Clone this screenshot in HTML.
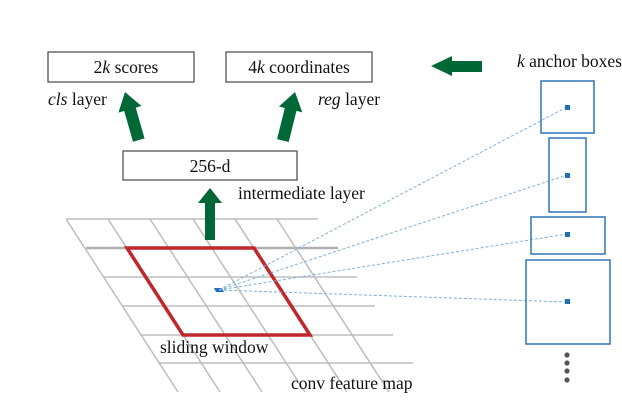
<!DOCTYPE html>
<html><head><style>body{margin:0;background:#fff}svg{display:block}</style></head>
<body>
<svg width="622" height="402" xmlns="http://www.w3.org/2000/svg" font-family="Liberation Serif, serif" font-size="17.5" fill="#111">
<!-- grid -->
<g stroke="#bdbdbd" stroke-width="1.5">
<line x1="66" y1="219" x2="318" y2="219"/>
<line x1="86" y1="248" x2="338" y2="248" stroke="#b0b0b0" stroke-width="2.5"/>
<line x1="104" y1="277" x2="357" y2="277"/>
<line x1="123" y1="306" x2="375" y2="306"/>
<line x1="140" y1="335" x2="393" y2="335"/>
<line x1="158" y1="363" x2="413" y2="363"/>
<line x1="66" y1="219" x2="178" y2="392"/>
<line x1="108" y1="219" x2="220" y2="392"/>
<line x1="150" y1="219" x2="262" y2="392"/>
<line x1="193" y1="219" x2="305" y2="392"/>
<line x1="235" y1="219" x2="347" y2="392"/>
<line x1="277" y1="219" x2="389" y2="392"/>
</g>
<polygon points="127,248 254,248 310,335 183,335" fill="none" stroke="#c0272d" stroke-width="3.5"/>
<polygon points="214,288 222,288 224,292 216,292" fill="#1f6fb8"/>
<!-- dashed -->
<g stroke="#7fb0dc" stroke-width="1" stroke-dasharray="3,2" fill="none">
<line x1="219" y1="290" x2="567" y2="107"/>
<line x1="219" y1="290" x2="567" y2="175"/>
<line x1="219" y1="290" x2="567" y2="234"/>
<line x1="219" y1="290" x2="567" y2="302"/>
</g>
<!-- anchors -->
<g fill="none" stroke="#2e75b6" stroke-width="1.5">
<rect x="541" y="81" width="53" height="52"/>
<rect x="549" y="138" width="37" height="74"/>
<rect x="531" y="217" width="74" height="37"/>
<rect x="526" y="260" width="84" height="84"/>
</g>
<g fill="#1f6fb8">
<rect x="565" y="105" width="5" height="5"/>
<rect x="565" y="173" width="5" height="5"/>
<rect x="565" y="232" width="5" height="5"/>
<rect x="565" y="299" width="5" height="5"/>
</g>
<g fill="#555">
<circle cx="567" cy="355" r="2.6"/><circle cx="567" cy="363" r="2.6"/>
<circle cx="567" cy="371" r="2.6"/><circle cx="567" cy="380" r="2.6"/>
</g>
<!-- boxes -->
<g fill="#fff" stroke="#555" stroke-width="1.3">
<rect x="48" y="52" width="146" height="30"/>
<rect x="226" y="52" width="146" height="30"/>
<rect x="123" y="151" width="174" height="29"/>
</g>
<text x="126" y="73" text-anchor="middle">2<tspan font-style="italic">k</tspan> scores</text>
<text x="299" y="73" text-anchor="middle">4<tspan font-style="italic">k</tspan> coordinates</text>
<text x="210" y="172" text-anchor="middle">256-d</text>
<text x="48" y="105"><tspan font-style="italic">cls</tspan> layer</text>
<text x="318" y="105"><tspan font-style="italic">reg</tspan> layer</text>
<text x="238" y="199">intermediate layer</text>
<text x="517" y="67"><tspan font-style="italic">k</tspan> anchor boxes</text>
<text x="160" y="353">sliding window</text>
<text x="291" y="389">conv feature map</text>
<!-- green arrows -->
<g fill="#006837">
<polygon points="431,66 452,56 452,61 482,61 482,72 452,72 452,76"/>
<polygon points="210,188 222,203 215,203 215,240 205,240 205,203 198,203"/>
<g transform="translate(125,92) rotate(-16)">
<polygon points="0,0 12,18 6,18 6,50 -6,50 -6,18 -12,18"/>
</g>
<g transform="translate(295,92) rotate(14)">
<polygon points="0,0 12,18 6,18 6,50 -6,50 -6,18 -12,18"/>
</g>
</g>
</svg>
</body></html>
